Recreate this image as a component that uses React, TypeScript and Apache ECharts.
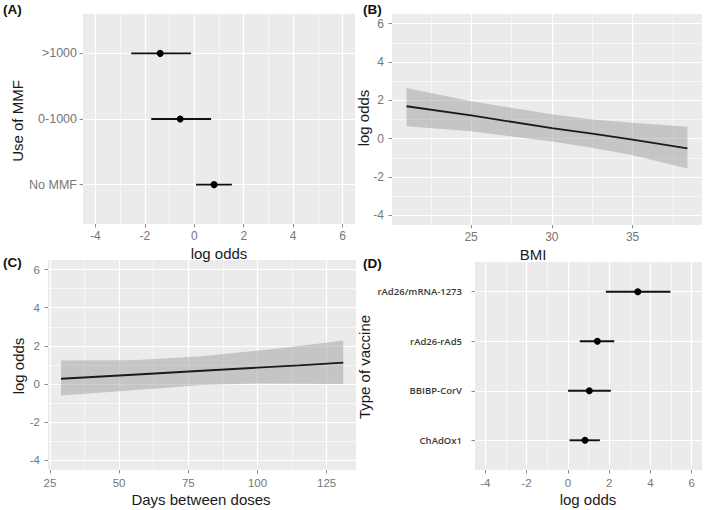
import React, { useEffect, useRef } from 'react';
import * as echarts from 'echarts';

// ---- Panel A: Use of MMF ----
const mmfCats = ['No MMF', '0-1000', '>1000'];
const mmfEst = [0.8, -0.57, -1.38];
const mmfLo = [0.07, -1.74, -2.55];
const mmfHi = [1.52, 0.68, -0.13];

// ---- Panel B: BMI ----
const bmiX = [21, 25, 30, 32.5, 35, 38.4];
const bmiFit = [1.69, 1.21, 0.55, 0.26, -0.05, -0.5];
const bmiLo = [0.65, 0.39, -0.15, -0.47, -0.87, -1.55];
const bmiHi = [2.64, 1.95, 1.28, 1.0, 0.83, 0.62];

// ---- Panel C: Days between doses ----
const daysX = [29, 55, 80, 100, 115, 131];
const daysFit = [0.28, 0.49, 0.7, 0.86, 0.98, 1.12];
const daysLo = [-0.6, -0.32, -0.05, 0.03, 0.02, 0.0];
const daysHi = [1.23, 1.25, 1.46, 1.75, 2.0, 2.28];

// ---- Panel D: Type of vaccine ----
const vacCats = ['ChAdOx1', 'BBIBP-CorV', 'rAd26-rAd5', 'rAd26/mRNA-1273'];
const vacEst = [0.83, 1.04, 1.43, 3.39];
const vacLo = [0.08, 0.01, 0.58, 1.84];
const vacHi = [1.55, 2.08, 2.25, 4.97];

// ---- Ticks ----
const logOddsTicks = [-4, -2, 0, 2, 4, 6];
const logOddsMinor = [-3, -1, 1, 3, 5];
const bmiTicks = [25, 30, 35];
const bmiMinor = [22.5, 27.5, 32.5, 37.5];
const daysTicks = [25, 50, 75, 100, 125];
const daysMinor = [37.5, 62.5, 87.5, 112.5];
const mmfTicks = [1, 2, 3];
const vacTicks = [1, 2, 3, 4];

const FONT = 'Liberation Sans';
const TICK_COLOR = '#767676';
const BAND_FILL = 'rgba(150,150,150,0.45)';

function mainAxis(gridIndex: number, min: number, max: number, ticks: number[], margin: number, fontSize: number, extra: any = {}) {
  return {
    type: 'value',
    gridIndex,
    min,
    max,
    axisLine: { show: false, onZero: false },
    axisTick: { show: true, length: 3.5, customValues: ticks, lineStyle: { color: '#8c8c8c', width: 1 } },
    axisLabel: {
      customValues: ticks,
      color: TICK_COLOR,
      fontSize,
      fontFamily: FONT,
      margin,
      ...(extra.axisLabel || {}),
    },
    splitLine: { show: true, lineStyle: { color: '#ffffff', width: 1.2 } },
  };
}

function minorAxis(gridIndex: number, min: number, max: number, ticks: number[]) {
  return {
    type: 'value',
    gridIndex,
    min,
    max,
    axisLine: { show: false, onZero: false },
    axisTick: { show: false, customValues: ticks },
    axisLabel: { show: false, customValues: ticks },
    splitLine: { show: true, lineStyle: { color: '#ffffff', width: 0.6 } },
  };
}

function grid(left: number, top: number, width: number, height: number) {
  return {
    left,
    top,
    width,
    height,
    show: true,
    backgroundColor: '#EBEBEB',
    borderWidth: 0,
    containLabel: false,
    outerBoundsMode: 'none',
  };
}

function errorBarSeries(xi: number, yi: number, lo: number[], hi: number[]) {
  return {
    type: 'custom',
    xAxisIndex: xi,
    yAxisIndex: yi,
    data: lo.map((l, i) => [l, hi[i], i + 1]),
    encode: { x: [0, 1], y: 2 },
    renderItem: (params: any, api: any) => {
      const p1 = api.coord([api.value(0), api.value(2)]);
      const p2 = api.coord([api.value(1), api.value(2)]);
      return {
        type: 'line',
        shape: { x1: p1[0], y1: p1[1], x2: p2[0], y2: p2[1] },
        style: { stroke: '#111', lineWidth: 1.9 },
      };
    },
    z: 3,
  };
}

function pointSeries(xi: number, yi: number, est: number[]) {
  return {
    type: 'scatter',
    xAxisIndex: xi,
    yAxisIndex: yi,
    data: est.map((e, i) => [e, i + 1]),
    symbolSize: 7,
    itemStyle: { color: '#000', opacity: 1 },
    z: 4,
  };
}

function bandSeries(xi: number, yi: number, xs: number[], lo: number[], hi: number[]) {
  return {
    type: 'custom',
    xAxisIndex: xi,
    yAxisIndex: yi,
    data: xs.map((x, i) => [x, lo[i], hi[i]]),
    encode: { x: 0, y: [1, 2] },
    renderItem: (params: any, api: any) => {
      if (params.dataIndex !== 0) return null;
      const pts: number[][] = [];
      for (let i = 0; i < xs.length; i++) pts.push(api.coord([xs[i], hi[i]]));
      for (let i = xs.length - 1; i >= 0; i--) pts.push(api.coord([xs[i], lo[i]]));
      return {
        type: 'polygon',
        shape: { points: pts },
        style: { fill: BAND_FILL, stroke: 'none' },
      };
    },
    z: 2,
  };
}

function fitSeries(xi: number, yi: number, xs: number[], fit: number[]) {
  return {
    type: 'line',
    xAxisIndex: xi,
    yAxisIndex: yi,
    data: xs.map((x, i) => [x, fit[i]]),
    symbol: 'none',
    lineStyle: { color: '#1a1a1a', width: 1.8 },
    z: 3,
  };
}

function title(text: string, x: number, y: number, rotate = false, size = 15) {
  return {
    type: 'text',
    x,
    y,
    rotation: rotate ? Math.PI / 2 : 0,
    style: {
      text,
      fontSize: size,
      fontFamily: FONT,
      fill: '#1a1a1a',
      align: 'center',
      verticalAlign: 'middle',
    },
  };
}

function panelLabel(text: string, x: number, y: number) {
  return {
    type: 'text',
    x,
    y,
    style: {
      text,
      fontSize: 13.5,
      fontWeight: 'bold',
      fontFamily: FONT,
      fill: '#111',
      align: 'left',
      verticalAlign: 'middle',
    },
  };
}

const LO = -4.5;
const HI = 6.5;

const option: any = {
  animation: false,
  backgroundColor: '#ffffff',
  textStyle: { fontFamily: FONT },
  grid: [
    grid(83, 14, 272, 210), // A
    grid(392, 14, 310, 211), // B
    grid(48, 260, 308, 210), // C
    grid(475, 262, 227, 208), // D
  ],
  xAxis: [
    mainAxis(0, LO, HI, logOddsTicks, 6, 12), // 0 A
    minorAxis(0, LO, HI, logOddsMinor), // 1
    mainAxis(1, 20.1, 39.3, bmiTicks, 6, 12), // 2 B
    minorAxis(1, 20.1, 39.3, bmiMinor), // 3
    mainAxis(2, 24.3, 135.6, daysTicks, 7, 11.5), // 4 C
    minorAxis(2, 24.3, 135.6, daysMinor), // 5
    mainAxis(3, LO, HI, logOddsTicks, 7, 11.5), // 6 D
    minorAxis(3, LO, HI, logOddsMinor), // 7
  ],
  yAxis: [
    mainAxis(0, 0.4, 3.6, mmfTicks, 6, 12.5, {
      axisLabel: { formatter: (v: number) => mmfCats[Math.round(v) - 1] || '' },
    }), // 0 A
    mainAxis(1, LO, HI, logOddsTicks, 8, 12), // 1 B
    minorAxis(1, LO, HI, logOddsMinor), // 2
    mainAxis(2, LO, HI, logOddsTicks, 8, 11.5), // 3 C
    minorAxis(2, LO, HI, logOddsMinor), // 4
    mainAxis(3, 0.4, 4.6, vacTicks, 13, 9.5, {
      axisLabel: {
        formatter: (v: number) => vacCats[Math.round(v) - 1] || '',
        fontFamily: 'Open Sans',
        fontWeight: 600,
        fontSize: 9.5,
        color: '#3a3a3a',
      },
    }), // 5 D
  ],
  series: [
    errorBarSeries(0, 0, mmfLo, mmfHi),
    pointSeries(0, 0, mmfEst),
    bandSeries(2, 1, bmiX, bmiLo, bmiHi),
    fitSeries(2, 1, bmiX, bmiFit),
    bandSeries(4, 3, daysX, daysLo, daysHi),
    fitSeries(4, 3, daysX, daysFit),
    errorBarSeries(6, 5, vacLo, vacHi),
    pointSeries(6, 5, vacEst),
  ],
  graphic: [
    panelLabel('(A)', 3, 9),
    panelLabel('(B)', 363, 9),
    panelLabel('(C)', 3, 262),
    panelLabel('(D)', 363, 263),
    title('log odds', 219, 253),
    title('BMI', 533, 254),
    title('Days between doses', 201, 499),
    title('log odds', 588, 499),
    title('Use of MMF', 17, 121, true),
    title('log odds', 363, 118, true),
    title('log odds', 18, 366, true),
    title('Type of vaccine', 364, 367, true),
  ],
};

export default function App() {
  const ref = useRef<HTMLDivElement>(null);
  useEffect(() => {
    if (!ref.current) return;
    const chart = echarts.init(ref.current, null, { renderer: 'svg' });
    chart.setOption(option);
    return () => chart.dispose();
  }, []);
  return (
    <div
      ref={ref}
      style={{ position: 'fixed', left: 0, top: 0, width: 709, height: 510 }}
    />
  );
}
